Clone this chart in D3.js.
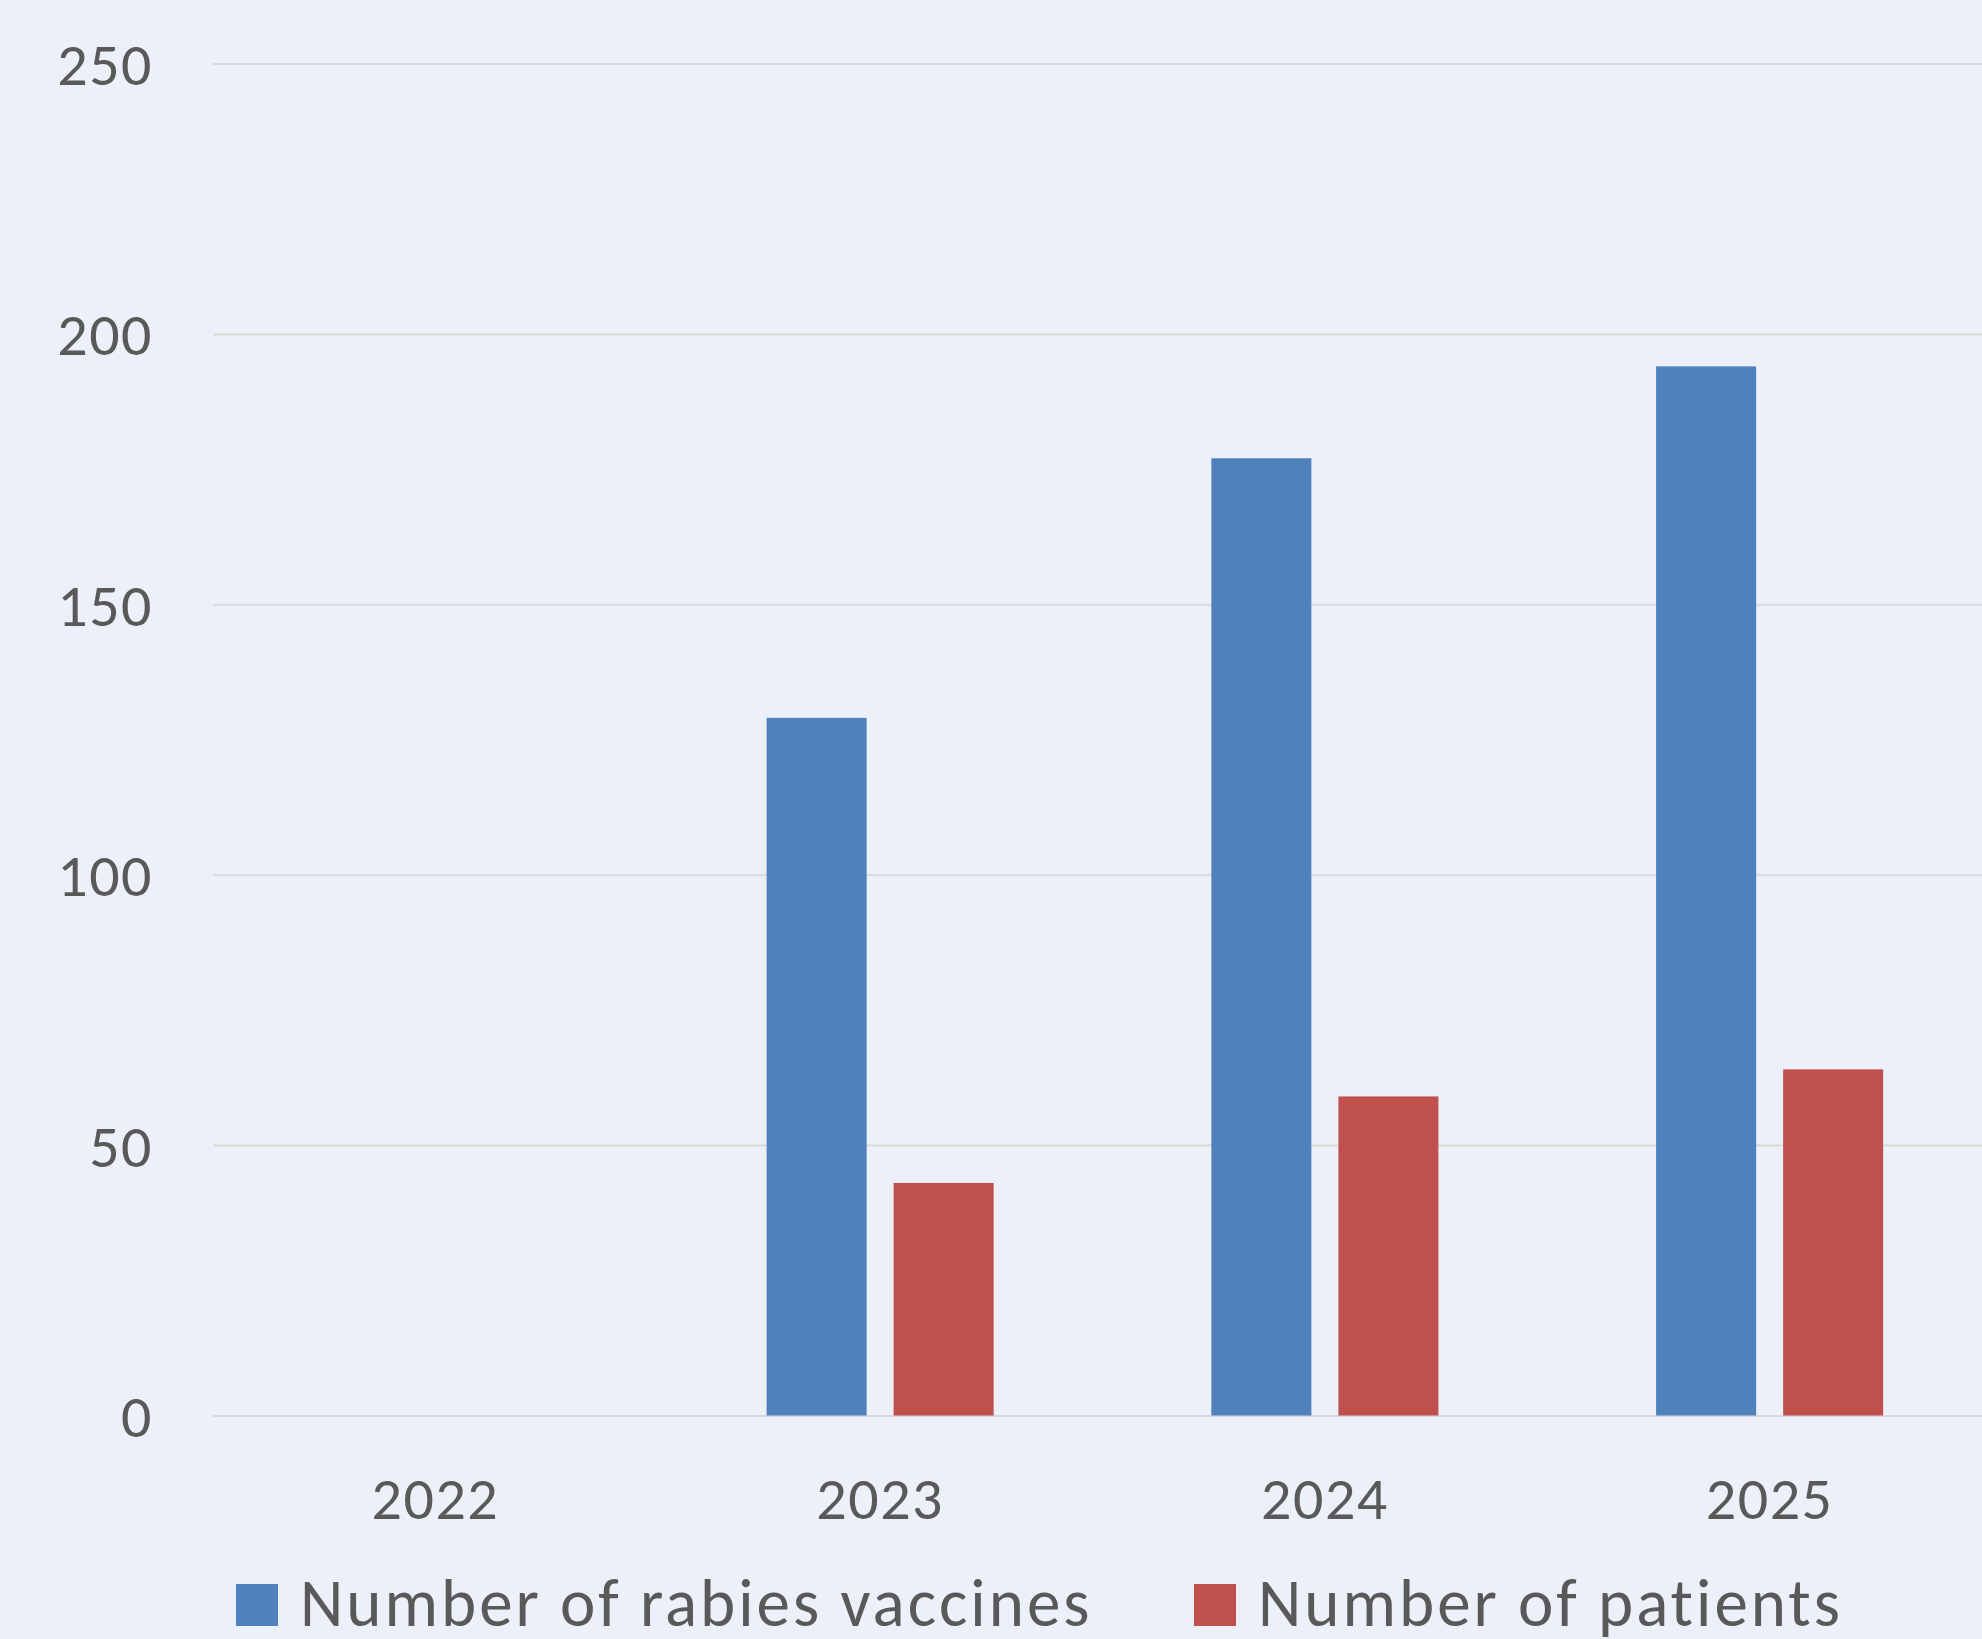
<!DOCTYPE html>
<html>
<head>
<meta charset="utf-8">
<script src="https://cdn.jsdelivr.net/npm/d3@7"></script>
<style>
  html, body { margin: 0; padding: 0; background: #ECF0F8; overflow: hidden; }
  svg { display: block; }
  text { font-family: Carlito, Calibri, Lato, "Open Sans", sans-serif; fill: #595959; }
</style>
</head>
<body>
<svg id="chart" width="1982" height="1639"></svg>
<script>
// ---- data ----
const categories = ["2022", "2023", "2024", "2025"];
const seriesNames = ["Number of rabies vaccines", "Number of patients"];
const vaccines = [0, 129, 177, 194];
const patients = [0, 43, 59, 64];
const yTicks = [0, 50, 100, 150, 200, 250];
const seriesColors = ["#4F81BD", "#C0504D"];

// ---- layout ----
const W = 1982, H = 1639;
const plotLeft = 213, plotRight = 1992;
const plotTop = 63.5, plotBottom = 1415.5;

const svg = d3.select("#chart");
svg.append("rect").attr("width", W).attr("height", H).attr("fill", "#ECF0F8");

const x0 = d3.scaleBand().domain(categories).range([plotLeft, plotRight]).padding(0);
const x1 = d3.scaleBand().domain(seriesNames).range([0, x0.bandwidth()])
  .paddingInner(27 / 127).paddingOuter(0.857);
const y = d3.scaleLinear().domain([0, 250]).range([plotBottom, plotTop]);

// gridlines + y labels
const yAxis = d3.axisLeft(y).tickValues(yTicks).tickSize(-(W - plotLeft)).tickFormat(d3.format("d"));
const gy = svg.append("g").attr("transform", `translate(${plotLeft},0)`).call(yAxis);
gy.select(".domain").remove();
gy.selectAll(".tick line").attr("stroke", "#D9D9D9").attr("stroke-width", 2);
gy.selectAll(".tick text")
  .attr("font-size", 60)
  .attr("letter-spacing", 1.5)
  .attr("x", 153 - plotLeft)
  .attr("dy", null)
  .attr("y", 21)
  .attr("text-anchor", "end");

// bars
const rows = categories.map((c, i) => ({ cat: c, vals: [vaccines[i], patients[i]] }));
const groups = svg.append("g").selectAll("g").data(rows).join("g")
  .attr("transform", d => `translate(${x0(d.cat)},0)`);
groups.selectAll("rect")
  .data(d => d.vals.map((v, j) => ({ name: seriesNames[j], v, j })))
  .join("rect")
  .attr("x", d => x1(d.name))
  .attr("width", x1.bandwidth())
  .attr("y", d => y(d.v))
  .attr("height", d => y(0) - y(d.v))
  .attr("fill", d => seriesColors[d.j]);

// x axis labels
const xAxis = d3.axisBottom(x0).tickSize(0).tickPadding(0);
const gx = svg.append("g").attr("transform", `translate(0,${plotBottom})`).call(xAxis);
gx.select(".domain").remove();
gx.selectAll(".tick text")
  .attr("font-size", 60)
  .attr("letter-spacing", 1.5)
  .attr("dy", null)
  .attr("y", 103)
  .attr("text-anchor", "middle");

// legend
const legendItems = [
  { name: seriesNames[0], color: seriesColors[0], x: 236 },
  { name: seriesNames[1], color: seriesColors[1], x: 1194 }
];
const lg = svg.append("g").selectAll("g").data(legendItems).join("g")
  .attr("transform", d => `translate(${d.x},0)`);
lg.append("rect").attr("x", 0).attr("y", 1584).attr("width", 42).attr("height", 42)
  .attr("fill", d => d.color);
lg.append("text").attr("x", 64).attr("y", 1626).attr("font-size", 67)
  .attr("letter-spacing", 3)
  .text(d => d.name);
</script>
</body>
</html>
